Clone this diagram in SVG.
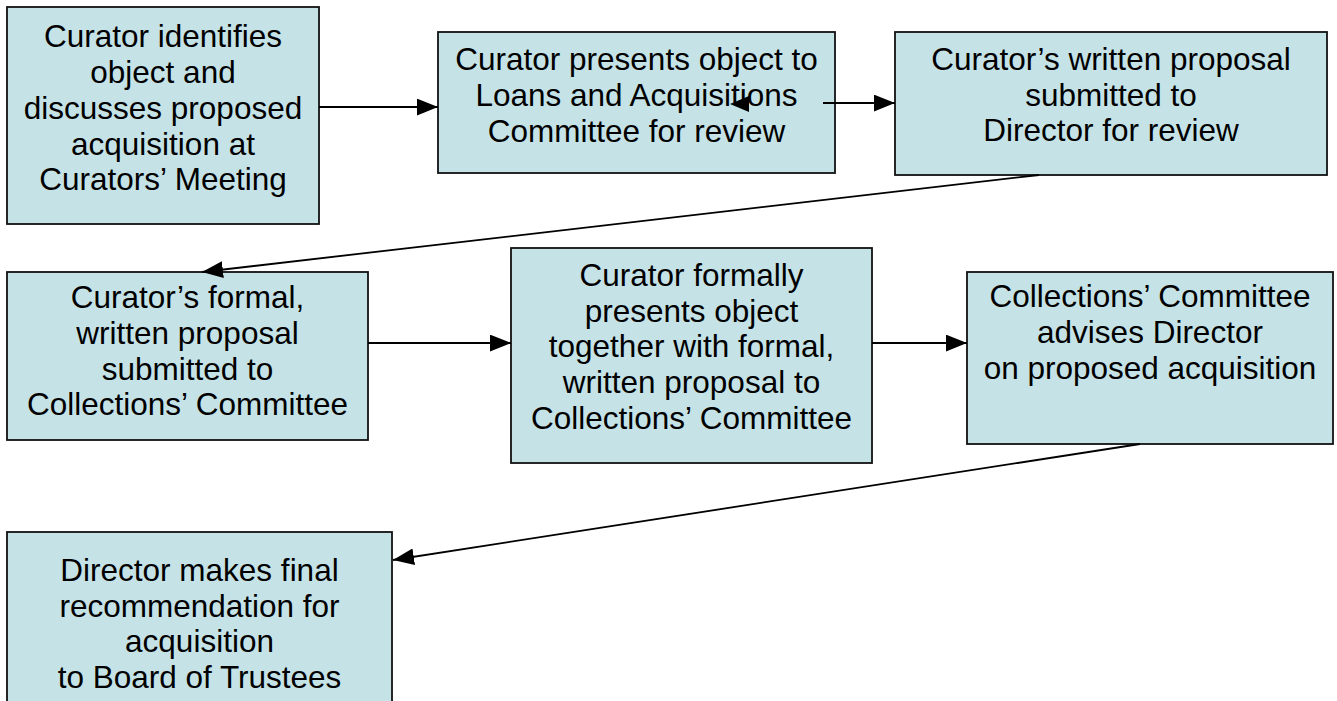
<svg xmlns="http://www.w3.org/2000/svg" width="1337" height="701" viewBox="0 0 1337 701">
  <style>
    .box { fill: #C5E3E7; stroke: #111; stroke-width: 1.8; }
    .lbl { font-family: "Liberation Sans", Arial, sans-serif; font-size: 31.5px; fill: #000; text-anchor: middle; }
    .conn { stroke: #000; stroke-width: 1.8; fill: none; }
  </style>
  <defs>
    <marker id="ah" viewBox="0 0 20 16" markerWidth="21" markerHeight="17" refX="20" refY="8" orient="auto" markerUnits="userSpaceOnUse">
      <path d="M0,0 L20,8 L0,16 z" fill="#000"/>
    </marker>
  </defs>
  <rect width="1337" height="701" fill="#fff"/>

  <g id="node-1">
    <rect class="box" x="7" y="7" width="312" height="217"/>
    <text class="lbl" x="163" y="47">Curator identifies</text>
    <text class="lbl" x="163" y="83">object and</text>
    <text class="lbl" x="163" y="119">discusses proposed</text>
    <text class="lbl" x="163" y="155">acquisition at</text>
    <text class="lbl" x="163" y="190">Curators’ Meeting</text>
  </g>
  <g id="node-2">
    <rect class="box" x="438" y="32" width="397" height="141"/>
    <text class="lbl" x="636.5" y="70">Curator presents object to</text>
    <text class="lbl" x="636.5" y="106">Loans and Acquisitions</text>
    <text class="lbl" x="636.5" y="142">Committee for review</text>
  </g>
  <g id="node-3">
    <rect class="box" x="895" y="32" width="432" height="143"/>
    <text class="lbl" x="1111" y="70">Curator’s written proposal</text>
    <text class="lbl" x="1111" y="106">submitted to</text>
    <text class="lbl" x="1111" y="141">Director for review</text>
  </g>
  <g id="node-4">
    <rect class="box" x="7" y="272" width="361" height="168"/>
    <text class="lbl" x="187.5" y="308">Curator’s formal,</text>
    <text class="lbl" x="187.5" y="344">written proposal</text>
    <text class="lbl" x="187.5" y="380">submitted to</text>
    <text class="lbl" x="187.5" y="415">Collections’ Committee</text>
  </g>
  <g id="node-5">
    <rect class="box" x="511" y="248" width="361" height="215"/>
    <text class="lbl" x="691.5" y="286">Curator formally</text>
    <text class="lbl" x="691.5" y="322">presents object</text>
    <text class="lbl" x="691.5" y="357">together with formal,</text>
    <text class="lbl" x="691.5" y="393">written proposal to</text>
    <text class="lbl" x="691.5" y="429">Collections’ Committee</text>
  </g>
  <g id="node-6">
    <rect class="box" x="967" y="272" width="366" height="172"/>
    <text class="lbl" x="1150" y="307">Collections’ Committee</text>
    <text class="lbl" x="1150" y="343">advises Director</text>
    <text class="lbl" x="1150" y="379">on proposed acquisition</text>
  </g>
  <g id="node-7">
    <rect class="box" x="7" y="532" width="385" height="185"/>
    <text class="lbl" x="199.5" y="581">Director makes final</text>
    <text class="lbl" x="199.5" y="617">recommendation for</text>
    <text class="lbl" x="199.5" y="652">acquisition</text>
    <text class="lbl" x="199.5" y="688">to Board of Trustees</text>
  </g>

  <g id="connectors">
    <line class="conn" x1="319" y1="107" x2="438" y2="107" marker-end="url(#ah)"/>
    <line class="conn" x1="823" y1="103" x2="895" y2="103" marker-end="url(#ah)"/>
    <polygon points="730,104 749,96 749,112" fill="#000"/>
    <line class="conn" x1="1039" y1="175" x2="202" y2="272" marker-end="url(#ah)"/>
    <line class="conn" x1="368" y1="343" x2="511" y2="343" marker-end="url(#ah)"/>
    <line class="conn" x1="872" y1="343" x2="967" y2="343" marker-end="url(#ah)"/>
    <line class="conn" x1="1140" y1="444" x2="393" y2="560" marker-end="url(#ah)"/>
  </g>
</svg>
